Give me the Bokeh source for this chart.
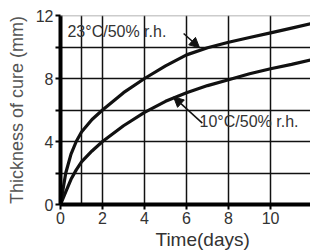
from bokeh.plotting import figure
from bokeh.models import Range1d, FixedTicker, Label, Arrow, NormalHead, Span, Title
from bokeh.embed import file_html
from bokeh.resources import INLINE

days = [0, 0.25, 0.5, 0.75, 1, 1.5, 2, 3, 4, 5, 6, 7, 8, 9, 10, 11, 12]
warm = [0, 2.0, 3.2, 4.0, 4.6, 5.4, 6.0, 7.1, 8.0, 8.8, 9.5, 9.95, 10.3, 10.6, 10.9, 11.2, 11.5]
cool = [0, 0.8, 1.6, 2.2, 2.7, 3.4, 4.0, 5.0, 5.85, 6.55, 7.1, 7.55, 7.92, 8.3, 8.62, 8.9, 9.2]

x_ticks = [0, 2, 4, 6, 8, 10]
y_ticks = [0, 2, 4, 6, 8, 10, 12]
y_labels = {0: "0", 2: "", 4: "4", 6: "", 8: "8", 10: "", 12: "12"}
x_grid = [1, 2, 4, 6, 8, 10]
y_grid = [2, 4, 6, 8, 10]

FONT = "Liberation Sans"
TXT = "#333333"

p = figure(width=310, height=251, output_backend="svg", toolbar_location=None,
           x_range=Range1d(0, 11.9), y_range=Range1d(0, 12),
           min_border_left=60, min_border_right=0, min_border_top=15, min_border_bottom=47)
p.outline_line_color = None
p.background_fill_color = "white"
p.border_fill_color = "white"

p.xgrid.ticker = FixedTicker(ticks=x_grid)
p.ygrid.ticker = FixedTicker(ticks=y_grid)
for g in (p.xgrid, p.ygrid):
    g.grid_line_color = "#111111"
    g.grid_line_width = 1.5

p.add_layout(Span(location=12, dimension="width", line_color="#999999", line_width=1.5))

p.xaxis.ticker = FixedTicker(ticks=x_ticks)
p.yaxis.ticker = FixedTicker(ticks=y_ticks)
p.yaxis.major_label_overrides = y_labels
for ax in (p.xaxis, p.yaxis):
    ax.minor_tick_line_color = None
    ax.major_tick_in = 0
    ax.major_tick_out = 5
    ax.major_tick_line_width = 2
    ax.major_tick_line_color = "black"
    ax.axis_line_color = "black"
    ax.major_label_text_font = FONT
    ax.major_label_text_font_size = "16px"
    ax.major_label_text_color = TXT
    ax.major_label_standoff = 2
p.xaxis.axis_line_width = 4
p.yaxis.axis_line_width = 4
p.yaxis.axis_label = "Thickness of cure (mm)"
p.yaxis.axis_label_text_font = FONT
p.yaxis.axis_label_text_font_size = "18px"
p.yaxis.axis_label_text_font_style = "normal"
p.yaxis.axis_label_text_color = "#555555"
p.yaxis.axis_label_standoff = 6

p.line(days, warm, line_color="#111111", line_width=3.2)
p.line(days, cool, line_color="#111111", line_width=3.2)

xtitle = Title(text="Time(days)", align="left", offset=95, standoff=0,
               text_font=FONT, text_font_size="19px", text_font_style="normal",
               text_color=TXT)
p.add_layout(xtitle, "below")

p.add_layout(Label(x=0.33, y=11.0, text="23°C/50% r.h.", text_font=FONT, text_font_size="16px",
                   text_color=TXT, text_align="left", text_baseline="middle"))
p.add_layout(Label(x=6.62, y=5.3, text="10°C/50% r.h.", text_font=FONT, text_font_size="16px",
                   text_color=TXT, text_align="left", text_baseline="middle"))

p.add_layout(Arrow(x_start=5.86, y_start=10.86, x_end=6.62, y_end=9.95, line_width=1.5,
                   line_color="#111111",
                   end=NormalHead(size=10, fill_color="#111111", line_color="#111111")))
p.add_layout(Arrow(x_start=6.75, y_start=5.17, x_end=5.38, y_end=6.83, line_width=1.5,
                   line_color="#111111",
                   end=NormalHead(size=10, fill_color="#111111", line_color="#111111")))

open("out.html", "w").write(file_html(p, INLINE))
